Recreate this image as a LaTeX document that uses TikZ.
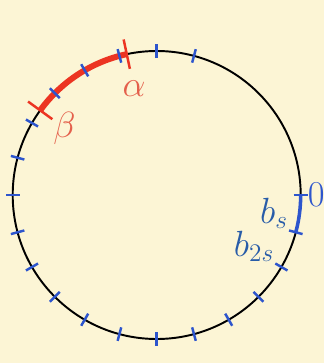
\documentclass[tikz,border=0pt]{standalone}
\usepackage{amsmath}
\usepackage{xcolor}
\usepackage{tikz}
\usetikzlibrary{positioning}
\definecolor{cream}{RGB}{252,245,213}
\definecolor{tblue}{RGB}{45,85,205}
\definecolor{lblue}{RGB}{40,92,168}
\definecolor{tred}{RGB}{236,52,34}
\definecolor{lred}{RGB}{228,96,76}

\begin{document}
\begin{tikzpicture}[
  font=\huge,
  ring/.style={line width=1.1pt,black},
  bluetick/.style={line width=1.4pt,tblue},
  redtick/.style={line width=1.4pt,tred},
  lab/.style={inner sep=1pt},
  ]
  \def\R{2.88}
  \fill[cream] (-3.134,-3.36) rectangle (3.346,3.90);
  \draw[ring] (0,0) circle (\R);
  % marked arcs
  \draw[tred,line width=3.4pt] (102:\R) arc (102:144:\R);
  \draw[tblue,line width=2pt] (0:\R) arc (0:-15:\R);
  \foreach \a in {75,90,...,360}
    \draw[bluetick] (\a:{\R-0.14}) -- (\a:{\R+0.14});
  \draw[redtick] (102:{\R-0.3}) -- (102:{\R+0.3});
  \draw[redtick] (144:{\R-0.3}) -- (144:{\R+0.3});
  % labels
  \node[lab,lred] (alpha) at (102:2.18) {$\alpha$};
  \node[lab,lred] (beta)  at (144:2.28) {$\beta$};
  \node[lab,tblue,anchor=west] (zero) at (0:{\R+0.1}) {$0$};
  \node[lab,lblue,anchor=south east] (bs)  at (-15:{\R-0.12}) {$b_s$};
  \node[lab,lblue,anchor=south east] (b2s) at (-30:{\R-0.12}) {$b_{2s}$};
\end{tikzpicture}
\end{document}
